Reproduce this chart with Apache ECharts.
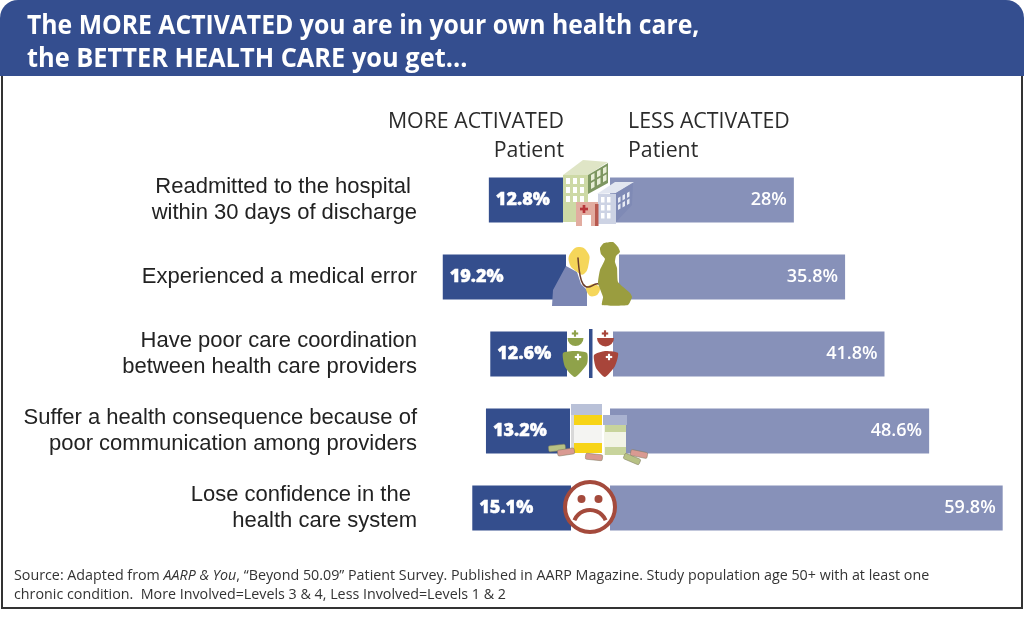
<!DOCTYPE html>
<html><head><meta charset="utf-8">
<style>html,body{margin:0;padding:0;background:#fff}#c{width:1024px;height:622px}</style>
<script src="https://cdn.jsdelivr.net/npm/echarts@6/dist/echarts.min.js"></script>
</head><body><div id="c"></div>
<script>
const categories = [
  "Readmitted to the hospital \nwithin 30 days of discharge",
  "Experienced a medical error",
  "Have poor care coordination\nbetween health care providers",
  "Suffer a health consequence because of\npoor communication among providers",
  "Lose confidence in the \nhealth care system"
];
const moreActivated = [12.8, 19.2, 12.6, 13.2, 15.1];
const lessActivated = [28, 35.8, 41.8, 48.6, 59.8];
const titleLines = ["The MORE ACTIVATED you are in your own health care,", "the BETTER HEALTH CARE you get..."];
const DARK = "#344e8d", LIGHT = "#8791b9";
const FF = '"Open Sans", sans-serif';

const chart = echarts.init(document.getElementById('c'), null, {renderer:'canvas', width:1024, height:622});

const Z = 100;
const rect=(x,y,w,h,fill,extra)=>Object.assign({type:'rect',z:Z,silent:true,shape:{x,y,width:w,height:h},style:{fill}},extra||{});
const poly=(points,fill,smooth)=>({type:'polygon',z:Z,silent:true,shape:{points,smooth:smooth||0},style:{fill}});
const circ=(cx,cy,r,fill,stroke,lw)=>({type:'circle',z:Z,silent:true,shape:{cx,cy,r},style:{fill,stroke,lineWidth:lw||0}});
const line=(points,stroke,lw,smooth)=>({type:'polyline',z:Z,silent:true,shape:{points,smooth:smooth||0},style:{stroke,lineWidth:lw,fill:null,lineCap:'round'}});
const plus=(cx,cy,s,fill)=>[rect(cx-s,cy-s/3,2*s,2*s/3,fill),rect(cx-s/3,cy-s,2*s/3,2*s,fill)];
const halfDisc=(cx,cy,r,fill)=>({type:'sector',z:Z,silent:true,shape:{cx,cy,r,r0:0,startAngle:0,endAngle:Math.PI},style:{fill}});

let g = [];
// frame and header band
g.push({type:'rect',z:1,silent:true,shape:{x:2,y:70,width:1020,height:538},style:{fill:null,stroke:'#333',lineWidth:2}});
g.push({type:'rect',z:2,silent:true,shape:{x:0,y:0,width:1024,height:76,r:[18,18,0,0]},style:{fill:'#344e8f'}});
g.push({type:'text',z:3,silent:true,x:27,y:27,scaleX:0.952,style:{x:0,y:0,text:titleLines[0],font:'700 26px '+FF,fill:'#fff',textVerticalAlign:'middle'}});
g.push({type:'text',z:3,silent:true,x:27,y:60,scaleX:0.976,style:{x:0,y:0,text:titleLines[1],font:'700 26px '+FF,fill:'#fff',textVerticalAlign:'middle'}});
// column heads
const hf='400 21px '+FF;
g.push({type:'text',z:105,silent:true,x:564,y:122,scaleX:1.015,style:{x:0,y:0,text:'MORE ACTIVATED',font:hf,fill:'#2b2b2b',textAlign:'right',textVerticalAlign:'middle'}});
g.push({type:'text',z:105,silent:true,x:564,y:151,scaleX:1.015,style:{x:0,y:0,text:'Patient',font:hf,fill:'#2b2b2b',textAlign:'right',textVerticalAlign:'middle'}});
g.push({type:'text',z:105,silent:true,x:628,y:122,scaleX:1.015,style:{x:0,y:0,text:'LESS ACTIVATED',font:hf,fill:'#2b2b2b',textVerticalAlign:'middle'}});
g.push({type:'text',z:105,silent:true,x:628,y:151,scaleX:1.015,style:{x:0,y:0,text:'Patient',font:hf,fill:'#2b2b2b',textVerticalAlign:'middle'}});
// source
g.push({type:'text',z:105,silent:true,x:14,y:585,scaleX:.985,style:{x:0,y:0,
  text:'Source: Adapted from {i|AARP & You}, “Beyond 50.09” Patient Survey. Published in AARP Magazine. Study population age 50+ with at least one\nchronic condition.  More Involved=Levels 3 & 4, Less Involved=Levels 1 & 2',
  font:'400 14.5px '+FF,fill:'#333',lineHeight:19,textVerticalAlign:'middle',
  rich:{i:{font:'italic 400 14.5px '+FF,fill:'#333'}}}});

// --- icon backdrops
g.push(rect(563,176,47,48,'#fff'));
g.push(rect(566,253,53,49,'#fff'));
g.push(rect(567,330,46,49,'#fff'));
g.push(rect(570,406,40,49,'#fff'));
g.push(rect(571,484,39,49,'#fff'));

// hospital
g.push(poly([[563,175],[583,160],[608,162],[588,175]],'#dfe5c6'));
g.push(rect(563,175,25,47,'#cdd9a5'));
g.push(poly([[588,175],[608,163],[608,183],[588,194]],'#7d9660'));
for(let r=0;r<3;r++)for(let c=0;c<3;c++)g.push(rect(566+c*7,178+r*9,4,6,'#fff'));
for(let c=0;c<3;c++)for(let r=0;r<2;r++){const x=591+c*6;const y=175-c*3.4+r*8;g.push(poly([[x,y],[x+3.5,y-2],[x+3.5,y+4],[x,y+6]],'#e8eed6'));}
g.push(poly([[597,194],[615,182],[634,182],[616,193]],'#e2e6f0'));
g.push(rect(598,194,18,30,'#cdd3e4'));
g.push(poly([[616,193],[633,183],[632,205],[616,222]],'#7f8ab5'));
for(let r=0;r<3;r++)for(let c=0;c<2;c++)g.push(rect(601+c*6,197+r*8,3.5,5.5,'#fff'));
for(let c=0;c<3;c++)for(let r=0;r<2;r++){const x=618+c*4.5;const y=198-c*2.5+r*7;g.push(poly([[x,y],[x+2.5,y-1.5],[x+2.5,y+3.5],[x,y+5]],'#e8ebf4'));}
g.push(rect(576,202,22,24,'#e2aca0'));
g.push(rect(595,204,3.5,22,'#b8594f'));
g.push(rect(582,215,9,11,'#fff'));
g.push(...plus(584,209,4,'#b8353a'));

// doctor + patient
g.push(poly([[552,306],[553,290],[566,266],[577,272],[581,284],[587,290],[587,306]],'#7b86b3'));
g.push(poly([[569,262],[572,251],[580,247],[588,253],[589,262],[584,274],[577,272]],'#f5d65a',0.5));
g.push(poly([[586,288],[594,284],[600,288],[597,295],[590,296]],'#f5d65a',0.3));
g.push(line([[578,258],[580,275],[583,284],[588,287],[596,284],[600,284]],'#6b3d2c',1.5,0.4));
g.push(poly([[600,248],[604,243],[613,242],[618,247],[620,252],[616,256],[615,262],[617,268],[618,282],[630,293],[632,297],[628,305],[602,305],[603,297],[598,283],[600,270],[605,259],[601,254]],'#9a9d3f',0.15));

// nurses
g.push(rect(589,329,3.5,49,DARK));
g.push(...plus(575,333.5,3.2,'#8fa24a'));
g.push(halfDisc(575.5,338,8,'#8fa24a'));
g.push(poly([[563,353],[575,351],[587,353],[587,364],[575,377],[565,367]],'#8fa24a',0.2));
g.push(...plus(578,357,3.2,'#fff'));
g.push(...plus(605,333.5,3.2,'#a8453a'));
g.push(halfDisc(605.5,338,8.5,'#a8453a'));
g.push(poly([[594,355],[605,351],[618,353],[615,366],[605,377],[596,368]],'#a8453a',0.2));
g.push(...plus(609,357,3.2,'#fff'));

// pills bottles
g.push(rect(571,415,31,38,'#f4f4f2'));
g.push(rect(571,404,31,11,'#b9c1d8'));
g.push(rect(574,415,28,10,'#f7d417'));
g.push(rect(574,443,28,10,'#f7d417'));
g.push(rect(571,415,3,38,'#d8d8d8'));
g.push(rect(604,425,22,30,'#f2f4e6'));
g.push(rect(603,415,24,10,'#a9b2d0'));
g.push(rect(605,425,21,7,'#c8d49c'));
g.push(rect(605,447,21,8,'#c8d49c'));
const pill=(x,y,rot,fill)=>({type:'rect',z:Z+1,silent:true,x,y,rotation:rot,shape:{x:-8.5,y:-3,width:17,height:6,r:1.5},style:{fill,stroke:'#7c7a5c',lineWidth:.5}});
g.push(pill(557,448,0.12,'#b7c184'));
g.push(pill(566,452,0.15,'#d99a92'));
g.push(pill(594,457,-0.1,'#d99a92'));
g.push(pill(632,459,-0.4,'#b7c184'));
g.push(pill(639,454,-0.2,'#d99a92'));

// sad face
g.push(circ(590,507,25,'#fff','#a44a3c',4));
g.push(circ(581.5,499,4,'#a44a3c'));
g.push(circ(598.5,499,4,'#a44a3c'));
g.push({type:'arc',z:Z,silent:true,shape:{cx:590,cy:527,r:17,startAngle:Math.PI*1.13,endAngle:Math.PI*1.87},style:{stroke:'#a44a3c',lineWidth:4,fill:null}});

chart.setOption({
  animation:false,
  grid:[
    {left:418,right:443,top:161.5,height:385},
    {left:610,right:20,top:161.5,height:385}
  ],
  xAxis:[
    {gridIndex:0,type:'value',inverse:true,min:0,max:22.64,show:false},
    {gridIndex:1,type:'value',min:0,max:60,show:false}
  ],
  yAxis:[
    {gridIndex:0,type:'category',inverse:true,data:categories,position:'left',
     axisLine:{show:false},axisTick:{show:false},
     axisLabel:{margin:1,fontFamily:'"Liberation Sans", Arial, sans-serif',fontSize:22,color:'#222',lineHeight:26,align:'right',interval:0,padding:[0,0,3,0]}},
    {gridIndex:1,type:'category',inverse:true,data:categories,show:false}
  ],
  series:[
    {name:'More activated',type:'bar',xAxisIndex:0,yAxisIndex:0,data:moreActivated,barWidth:45,
     itemStyle:{color:DARK},
     label:{show:true,position:'insideLeft',distance:7,formatter:p=>p.value+'%',fontFamily:FF,fontWeight:800,fontSize:18,color:'#fff',textBorderColor:'#fff',textBorderWidth:.4}},
    {name:'Less activated',type:'bar',xAxisIndex:1,yAxisIndex:1,data:lessActivated,barWidth:45,
     itemStyle:{color:LIGHT},
     label:{show:true,position:'insideRight',distance:7,formatter:p=>p.value+'%',fontFamily:FF,fontWeight:600,fontSize:18,color:'#fff'}}
  ],
  graphic:{elements:g}
});
</script></body></html>
